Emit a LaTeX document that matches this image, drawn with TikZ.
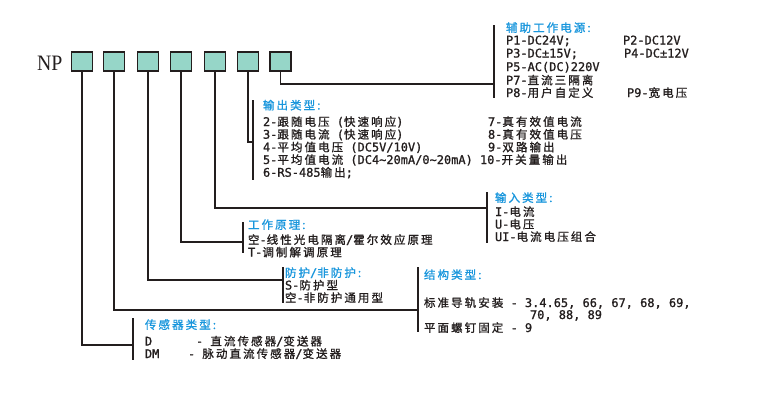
\documentclass[tikz,border=0pt]{standalone}
\usepackage{fontspec}
\setmainfont{Noto Sans CJK SC}[LetterSpace=18,FakeBold=1.2]
\newfontfamily\mono{DejaVu Sans Mono}[Scale=1.04,FakeBold=1.2]
\newfontfamily\npfont{Liberation Serif}
\newcommand\m[1]{{\mono #1}}
\definecolor{boxfill}{RGB}{150,214,200}
\definecolor{head}{RGB}{25,150,220}
\definecolor{ln}{RGB}{35,30,30}
\begin{document}
\begin{tikzpicture}[x=1pt,y=-1pt,
  tx/.style={anchor=base west, inner sep=0, outer sep=0, font=\fontsize{11.5}{13}\selectfont, text=ln},
  hd/.style={tx, text=head},
  slot/.style={draw=ln, line width=1.6, fill=boxfill, minimum width=21, minimum height=19, inner sep=0},
  wire/.style={draw=ln, line width=1.6}]
\useasboundingbox (0,0) rectangle (757,402);
% NP and slots
\node[font=\npfont\fontsize{22}{22}\selectfont, inner sep=0, anchor=base west, text=ln, xscale=0.9] (np) at (37,70) {NP};
\node[slot] (b1) at (82,61.5) {};
\node[slot] (b2) at (114,61.5) {};
\node[slot] (b3) at (148,61.5) {};
\node[slot] (b4) at (181,61.5) {};
\node[slot] (b5) at (215,61.5) {};
\node[slot] (b6) at (248,61.5) {};
\node[slot] (b7) at (280.5,61.5) {};
% bracket coordinates
\coordinate (A1) at (494,25); \coordinate (A2) at (494,98); \coordinate (Aj) at (494,84);
\coordinate (B1) at (253,100); \coordinate (B2) at (253,180); \coordinate (Bj) at (253,142);
\coordinate (C1) at (487,192); \coordinate (C2) at (487,243); \coordinate (Cj) at (487,208);
\coordinate (D1) at (243,222); \coordinate (D2) at (243,253); \coordinate (Dj) at (243,242);
\coordinate (E1) at (283,267); \coordinate (E2) at (283,303); \coordinate (Ej) at (283,280);
\coordinate (F1) at (418,267); \coordinate (F2) at (418,332); \coordinate (Fj) at (418,310);
\coordinate (G1) at (133,318); \coordinate (G2) at (133,360); \coordinate (Gj) at (133,345);
\foreach \g in {A,B,C,D,E,F,G}{\draw[wire] (\g1) -- (\g2);}
\draw[wire] (b7.south) |- (Aj);
\draw[wire] (b6.south) |- (Bj);
\draw[wire] (b5.south) |- (Cj);
\draw[wire] (b4.south) |- (Dj);
\draw[wire] (b3.south) |- (Ej);
\draw[wire] (b2.south) |- (Fj);
\draw[wire] (b1.south) |- (Gj);
% group A
\node[hd] (ah) at (506,32) {辅助工作电源:};
\node[tx] (a1) at (506,44.5) {\m{P1-DC24V;}};
\node[tx] (a2) at (623,44.5) {\m{P2-DC12V}};
\node[tx] (a3) at (506,57.5) {\m{P3-DC±15V;}};
\node[tx] (a4) at (624,57.5) {\m{P4-DC±12V}};
\node[tx] (a5) at (506,71) {\m{P5-AC(DC)220V}};
\node[tx] (a6) at (506,84.5) {\m{P7-}直流三隔离};
\node[tx] (a7) at (506,97) {\m{P8-}用户自定义};
\node[tx] (a8) at (627,97) {\m{P9-}宽电压};
% group B
\node[hd] (bh) at (263,109.5) {输出类型:};
\node[tx] (bl1) at (263,126) {\m{2-}跟随电压\m{\ (}快速响应\m{)}};
\node[tx] (bl2) at (263,138.7) {\m{3-}跟随电流\m{\ (}快速响应\m{)}};
\node[tx] (bl3) at (263,151.4) {\m{4-}平均值电压\m{\ (DC5V/10V)}};
\node[tx] (bl4) at (263,164) {\m{5-}平均值电流\m{\ (DC4\textasciitilde 20mA/0\textasciitilde 20mA)}};
\node[tx] (bl5) at (263,176.7) {\m{6-RS-485}输出\m{;}};
\node[tx] (br1) at (488,126) {\m{7-}真有效值电流};
\node[tx] (br2) at (488,138.7) {\m{8-}真有效值电压};
\node[tx] (br3) at (488,151.4) {\m{9-}双路输出};
\node[tx] (br4) at (480,164) {\m{10-}开关量输出};
% group C
\node[hd] (ch) at (495,202) {输入类型:};
\node[tx] (c1) at (495,216) {\m{I-}电流};
\node[tx] (c2) at (495,228.5) {\m{U-}电压};
\node[tx] (c3) at (495,241) {\m{UI-}电流电压组合};
% group D
\node[hd] (dh) at (248,229) {工作原理:};
\node[tx] (d1) at (248,244) {空\m{-}线性光电隔离\m{/}霍尔效应原理};
\node[tx] (d2) at (248,256.5) {\m{T-}调制解调原理};
% group E
\node[hd] (eh) at (285,277) {防护\m{/}非防护:};
\node[tx] (e1) at (285,289.5) {\m{S-}防护型};
\node[tx] (e2) at (285,302) {空\m{-}非防护通用型};
% group F
\node[hd] (fh) at (424,279) {结构类型:};
\node[tx] (f1) at (424,307) {标准导轨安装\m{\ - 3.4.65, 66, 67, 68, 69,}};
\node[tx] (f2) at (530,319) {\m{70, 88, 89}};
\node[tx] (f3) at (424,332) {平面螺钉固定\m{\ - 9}};
% group G
\node[hd] (gh) at (145,329) {传感器类型:};
\node[tx] (g1) at (145,345.5) {\m{D}};
\node[tx] (g2) at (196,345.5) {\m{-\ }直流传感器\m{/}变送器};
\node[tx] (g3) at (145,358) {\m{DM}};
\node[tx] (g4) at (188,358) {\m{-\ }脉动直流传感器\m{/}变送器};
\end{tikzpicture}
\end{document}
